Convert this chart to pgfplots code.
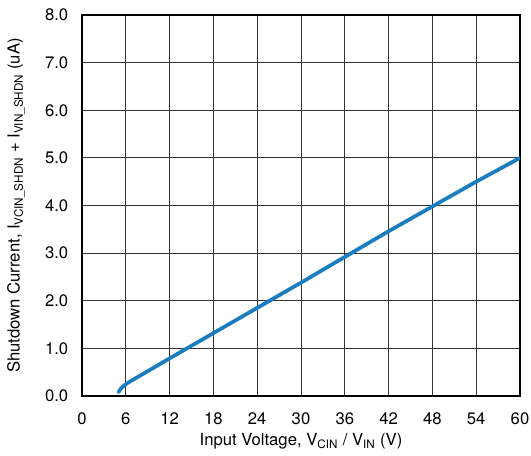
\documentclass[border=0pt]{standalone}
\usepackage{pgfplots}
\pgfplotsset{compat=1.18}
\usepackage{fontspec}
\setmainfont{TeX Gyre Heros}
\definecolor{lineblue}{HTML}{1A7DC0}
\begin{document}
\fontsize{12.5}{15}\selectfont
\begin{tikzpicture}
\begin{axis}[
  name=ax,
  scale only axis,
  width=328.5pt, height=285.75pt,
  xmin=0, xmax=60, ymin=0, ymax=8,
  xtick={0,6,...,60}, ytick={0,1,...,8},
  /pgf/number format/assume math mode=true,
  yticklabel style={xshift=-6pt, /pgf/number format/fixed, /pgf/number format/fixed zerofill, /pgf/number format/precision=1},
  grid=major,
  major grid style={black!80, line width=0.75pt},
  axis line style={black, line width=1.6pt},
  major tick length=0pt,
  tick label style={font=\fontsize{12.5}{15}\selectfont},
  xticklabel style={yshift=-8pt},
  label style={font=\fontsize{12.5}{15}\selectfont},
  xlabel={Input Voltage, V\textsubscript{CIN} / V\textsubscript{IN} (V)},
  ylabel={Shutdown Current, I\textsubscript{VCIN\_SHDN} + I\textsubscript{VIN\_SHDN} (uA)},
  xlabel style={at={(axis description cs:0.5,-0.1181)}, anchor=center},
  ylabel style={at={(axis description cs:-0.1507,0.5)}, anchor=center},
]
\addplot[lineblue, line width=2.8pt, line cap=round] coordinates {
(5.0,0.08) (5.3,0.15) (5.7,0.21) (6.2,0.27) (12,0.79) (18,1.32) (24,1.85) (30,2.38) (36,2.92) (42,3.46) (48,3.98) (54,4.5) (60,5.0)
};
\end{axis}
\pgfresetboundingbox
\path ([xshift=-61.5pt,yshift=-45pt]ax.south west) rectangle ([xshift=8.25pt,yshift=11.25pt]ax.north east);
\end{tikzpicture}
\end{document}
